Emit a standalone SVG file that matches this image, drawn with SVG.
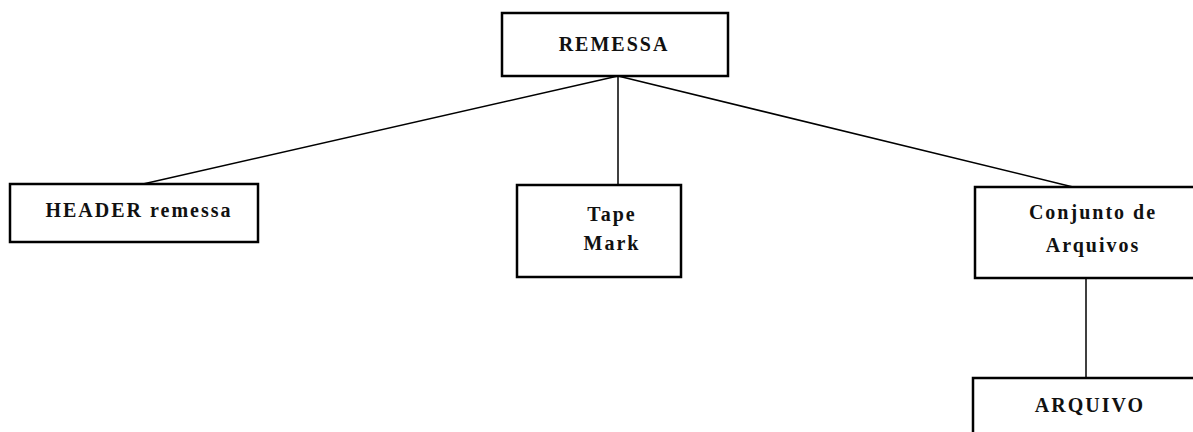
<svg xmlns="http://www.w3.org/2000/svg" width="1193" height="432" viewBox="0 0 1193 432">
<style>
.box{fill:#fff;stroke:#000;stroke-width:2.5}
.t{font-family:"Liberation Serif",serif;font-size:20px;font-weight:bold;letter-spacing:2px;text-anchor:middle;fill:#111}
.c{stroke:#000;stroke-width:1.5;fill:none}
</style>
<rect width="1193" height="432" fill="#fff"/>
<g id="connectors">
<line class="c" x1="618" y1="76" x2="143" y2="184"/>
<line class="c" x1="618" y1="76" x2="618" y2="185"/>
<line class="c" x1="618" y1="76" x2="1073" y2="187"/>
<line class="c" x1="1086" y1="278" x2="1086" y2="378"/>
</g>
<g id="remessa">
<rect class="box" x="502" y="13" width="226" height="63"/>
<text class="t" x="614" y="51">REMESSA</text>
</g>
<g id="header">
<rect class="box" x="10" y="184" width="248" height="58"/>
<text class="t" x="139" y="217">HEADER remessa</text>
</g>
<g id="tape">
<rect class="box" x="517" y="185" width="164" height="92"/>
<text class="t" x="612" y="221">Tape</text>
<text class="t" x="612" y="250">Mark</text>
</g>
<g id="conjunto">
<rect class="box" x="975" y="187" width="230" height="91"/>
<text class="t" x="1093" y="219">Conjunto de</text>
<text class="t" x="1093" y="252">Arquivos</text>
</g>
<g id="arquivo">
<rect class="box" x="973" y="378" width="232" height="70"/>
<text class="t" x="1090" y="412">ARQUIVO</text>
</g>
</svg>
